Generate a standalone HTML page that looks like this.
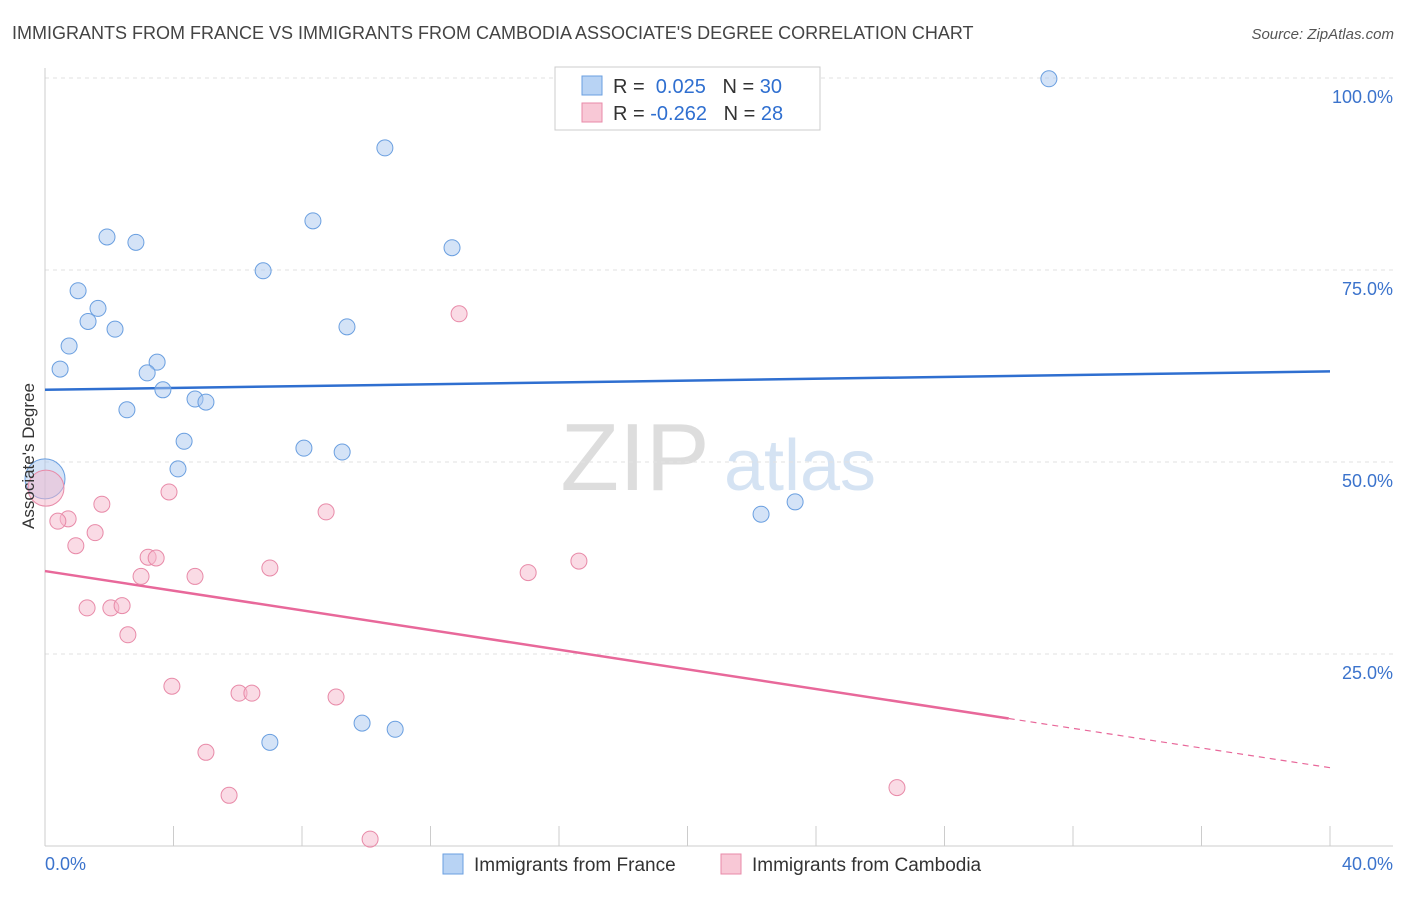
<!DOCTYPE html>
<html><head><meta charset="utf-8"><style>
body{margin:0;background:#fff;font-family:"Liberation Sans",sans-serif;}
svg text{font-family:"Liberation Sans",sans-serif;}
</style></head><body>
<svg id="chart" width="1406" height="892" xmlns="http://www.w3.org/2000/svg">
<text x="12" y="39" font-size="18" fill="#444">IMMIGRANTS FROM FRANCE VS IMMIGRANTS FROM CAMBODIA ASSOCIATE'S DEGREE CORRELATION CHART</text>
<text x="1394" y="39" font-size="15" fill="#555" text-anchor="end" font-style="italic">Source: ZipAtlas.com</text>
<g>
<text x="635" y="490" font-size="96" fill="#ddd" text-anchor="middle" font-family="Liberation Serif">ZIP</text>
<text x="800" y="490" font-size="72" fill="#d5e3f3" text-anchor="middle">atlas</text>
</g>
<g id="grid"></g>
<g id="axes"></g>
<g id="lines"></g>
<g id="points"></g>
<text transform="translate(34,456) rotate(-90)" font-size="17" fill="#333" text-anchor="middle">Associate's Degree</text>
<g>
<rect x="555" y="67" width="265" height="63" fill="#fff" stroke="#ccc"/>
<rect x="582" y="76" width="20" height="19" fill="#b8d3f4" stroke="#6a9fe0"/>
<text x="613" y="93" font-size="20" fill="#333">R = <tspan fill="#2f6fd0">&#160;0.025</tspan>&#160;&#160;&#160;N = <tspan fill="#2f6fd0">30</tspan></text>
<rect x="582" y="103" width="20" height="19" fill="#f8c8d6" stroke="#e88aa8"/>
<text x="613" y="120" font-size="20" fill="#333">R = <tspan fill="#2f6fd0">-0.262</tspan>&#160;&#160;&#160;N = <tspan fill="#2f6fd0">28</tspan></text>
</g>
<g>
<rect x="443" y="854" width="20" height="20" fill="#b8d3f4" stroke="#6a9fe0"/>
<text x="474" y="871" font-size="19" fill="#333">Immigrants from France</text>
<rect x="721" y="854" width="20" height="20" fill="#f8c8d6" stroke="#e88aa8"/>
<text x="752" y="871" font-size="19" fill="#333">Immigrants from Cambodia</text>
</g>
</svg>
<script>
const yTicks=[25,50,75,100];
const yTickLabels=["25.0%","50.0%","75.0%","100.0%"];
const xEndLabels=["0.0%","40.0%"];
const franceX=[31.25,10.58,8.34,1.93,2.83,12.67,6.79,1.03,1.65,1.34,2.18,9.40,0.75,0.47,3.49,3.18,3.67,4.67,5.01,2.55,4.33,8.06,9.25,4.14,22.29,23.35,9.87,10.90,7.00];
const franceY=[99.9,90.9,81.4,79.3,78.6,77.9,74.9,72.3,70.0,68.3,67.3,67.6,65.1,62.1,63.0,61.6,59.4,58.2,57.8,56.8,52.7,51.8,51.3,49.1,43.2,44.8,16.0,15.2,13.5];
const cambX=[12.89,3.86,1.77,0.72,0.40,1.56,8.75,0.96,3.21,3.46,7.00,2.99,4.67,15.04,16.62,1.31,2.05,2.40,2.58,3.95,6.04,6.44,9.06,5.01,5.73,26.52,10.12];
const cambY=[69.3,46.1,44.5,42.6,42.3,40.8,43.5,39.1,37.6,37.5,36.2,35.1,35.1,35.6,37.1,31.0,31.0,31.3,27.5,20.8,19.9,19.9,19.4,12.2,6.6,7.6,0.9];
const bigPoints=[[0.0,47.8,"france"],[0.03,46.6,"cambodia"]];
const franceTrend=[59.4,61.8];
const cambTrend=[35.8,10.2];
const cambSolidEnd=30;
const NS="http://www.w3.org/2000/svg";
const X=v=>45+v/40*1285;
const Y=v=>846-v*7.68;
function mk(tag,attrs,parent){const e=document.createElementNS(NS,tag);for(const k in attrs)e.setAttribute(k,attrs[k]);document.getElementById(parent).appendChild(e);return e;}
yTicks.forEach((t,i)=>{
 const g=mk('line',{x1:45,x2:1393,y1:Y(t),y2:Y(t),stroke:'#e2e2e2','stroke-dasharray':'4,4'},'grid');
 
 
 const l=mk('text',{x:1393,y:Y(t)+25,'font-size':18,fill:'#3b73cc','text-anchor':'end'},'axes');
 l.textContent=yTickLabels[i];
 
 
});
const ax=mk('line',{x1:45,x2:45,y1:68,y2:846,stroke:'#ccc'},'axes');


const bx=mk('line',{x1:45,x2:1393,y1:846,y2:846,stroke:'#ccc'},'axes');


for(let v=4;v<=40;v+=4){
 const t=mk('line',{x1:X(v),x2:X(v),y1:826,y2:846,stroke:'#ccc'},'axes');
 
 
}
[[0,'start'],[40,'end']].forEach((p,i)=>{
 const t=mk('text',{x:i?1393:45,y:870,'font-size':18,fill:'#3b73cc','text-anchor':p[1]},'axes');
 t.textContent=xEndLabels[i];
 
 
});
const fl=mk('line',{x1:X(0),y1:Y(franceTrend[0]),x2:X(40),y2:Y(franceTrend[1]),stroke:'#2f6fd0','stroke-width':2.5},'lines');


const cy=x=>cambTrend[0]+(cambTrend[1]-cambTrend[0])*x/40;
const cl=mk('line',{x1:X(0),y1:Y(cambTrend[0]),x2:X(cambSolidEnd),y2:Y(cy(cambSolidEnd)),stroke:'#e8689a','stroke-width':2.5},'lines');


const cd=mk('line',{x1:X(cambSolidEnd),y1:Y(cy(cambSolidEnd)),x2:X(40),y2:Y(cambTrend[1]),stroke:'#e8689a','stroke-width':1.2,'stroke-dasharray':'6,5'},'lines');


const sty={france:{fill:'rgba(169,200,240,0.5)',stroke:'#6a9fe0'},cambodia:{fill:'rgba(245,184,203,0.5)',stroke:'#e88aa8'}};
bigPoints.forEach(p=>{
 const c=mk('circle',{cx:X(p[0]),cy:Y(p[1]),r:p[2]=='france'?20:18,fill:sty[p[2]].fill,stroke:sty[p[2]].stroke},'points');
 
 
});
cambX.forEach((x,i)=>{
 const c=mk('circle',{cx:X(x),cy:Y(cambY[i]),r:8,fill:sty.cambodia.fill,stroke:sty.cambodia.stroke},'points');
 
 
});
franceX.forEach((x,i)=>{
 const c=mk('circle',{cx:X(x),cy:Y(franceY[i]),r:8,fill:sty.france.fill,stroke:sty.france.stroke},'points');
 
 
});
</script>
</body></html>
